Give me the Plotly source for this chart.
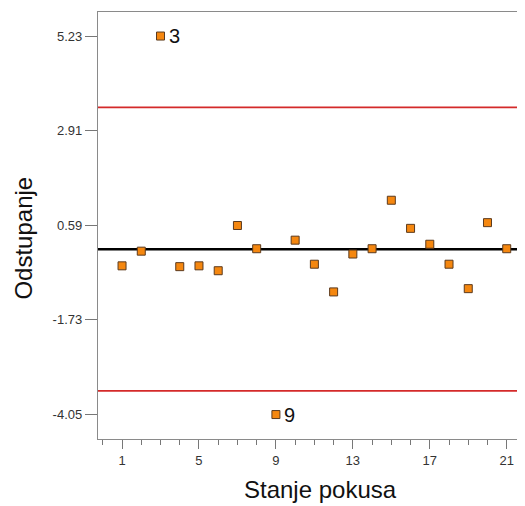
import plotly.graph_objects as go

# run order and deviation values
run_no = list(range(1, 22))
deviation = [-0.41, -0.05, 5.23, -0.43, -0.41, -0.53, 0.58, 0.01, -4.06, 0.22,
             -0.37, -1.05, -0.12, 0.01, 1.20, 0.51, 0.12, -0.37, -0.97, 0.65, 0.01]

# control limits
upper_limit = 3.48
lower_limit = -3.48
center_line = 0.0

y_tickvals = [5.23, 2.91, 0.59, -1.73, -4.05]
x_tickvals = [1, 5, 9, 13, 17, 21]

# outliers flagged with their run number
flagged = [3, 9]

x_range = [-0.25, 21.95]

fig = go.Figure()

# control lines
for val, col, w in [(upper_limit, "#d42a2a", 1.8), (lower_limit, "#d42a2a", 1.8),
                    (center_line, "#000000", 2.5)]:
  fig.add_trace(go.Scatter(x=x_range, y=[val, val], mode="lines",
                           line=dict(color=col, width=w), hoverinfo="skip"))

fig.add_trace(go.Scatter(
  x=run_no, y=deviation, mode="markers",
  marker=dict(symbol="square", size=8, color="#f5870f",
              line=dict(color="#5b3a1e", width=1)),
))

for r in flagged:
  fig.add_annotation(x=r, y=deviation[r - 1], text=str(r), showarrow=False,
                     xanchor="left", xshift=6,
                     font=dict(family="Liberation Sans, Arial", size=20, color="#111"))

# axis titles
fig.add_annotation(xref="paper", yref="paper", x=0.522, y=-0.119, yanchor="middle",
                   text="Stanje pokusa", showarrow=False,
                   font=dict(family="Liberation Sans, Arial", size=24, color="#111"))
fig.add_annotation(xref="paper", yref="paper", x=-0.175, y=0.47, xanchor="center",
                   yanchor="middle", text="Odstupanje", showarrow=False, textangle=-90,
                   font=dict(family="Liberation Sans, Arial", size=24, color="#111"))

# page has an 8px body margin, so offset the layout accordingly
fig.update_layout(
  width=517, height=498,
  margin=dict(l=90, r=0, t=4, b=67),
  plot_bgcolor="white", paper_bgcolor="white",
  showlegend=False,
  font=dict(family="Liberation Sans, Arial", size=13, color="#333"),
  xaxis=dict(
    range=x_range, showgrid=False, zeroline=False,
    showline=True, linecolor="#8a8a8a", linewidth=1.3, mirror=True,
    tickmode="array", tickvals=x_tickvals, ticks="outside",
    ticklen=9, tickcolor="#777", tickfont=dict(size=13, color="#333"),
    minor=dict(dtick=1, tick0=0, ticks="outside", ticklen=5, tickcolor="#777"),
  ),
  yaxis=dict(
    range=[-4.66, 5.82], showgrid=False, zeroline=False,
    showline=True, linecolor="#8a8a8a", linewidth=1.3,
    tickmode="array", tickvals=y_tickvals,
    ticktext=[f"{v:.2f}" for v in y_tickvals],
    ticks="outside", ticklen=12, tickcolor="#777",
    tickfont=dict(size=13, color="#333"),
  ),
)

fig.write_html("out.html")
